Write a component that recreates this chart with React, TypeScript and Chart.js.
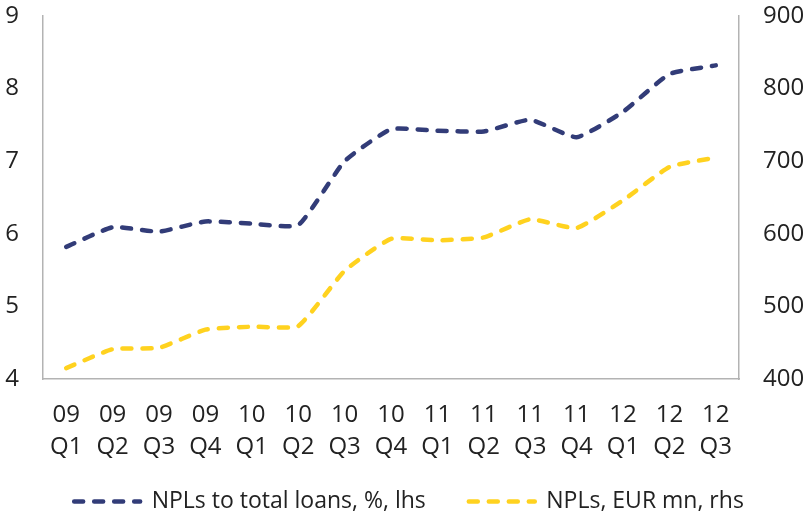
import React, { useEffect, useRef } from "react";
import { Chart, registerables } from "chart.js";

Chart.register(...registerables);

const categories: string[][] = [
  ["09", "Q1"], ["09", "Q2"], ["09", "Q3"], ["09", "Q4"],
  ["10", "Q1"], ["10", "Q2"], ["10", "Q3"], ["10", "Q4"],
  ["11", "Q1"], ["11", "Q2"], ["11", "Q3"], ["11", "Q4"],
  ["12", "Q1"], ["12", "Q2"], ["12", "Q3"],
];

const nplRatio: number[] = [5.82, 6.09, 6.03, 6.17, 6.14, 6.12, 7.0, 7.44, 7.42, 7.41, 7.57, 7.33, 7.68, 8.2, 8.32];
const nplEurMn: number[] = [415, 441, 443, 468, 472, 473, 549, 593, 591, 595, 620, 608, 646, 692, 705];

const leftTicks = { min: 4, max: 9, step: 1 };
const rightTicks = { min: 400, max: 900, step: 100 };

const seriesNames = ["NPLs to total loans, %, lhs", "NPLs, EUR mn, rhs"];

const FONT = "'Open Sans', sans-serif";
const TEXT = "#222222";
const AXIS = "#b3b3b3";
const BLUE = "#323c78";
const YELLOW = "#ffd21f";
const DASH = [9, 11];
const LINE_W = 4.5;

const legendShift = {
  id: "legendShift",
  afterLayout(chart: any) {
    const l = chart.legend;
    if (l) {
      l.top -= 16;
      l.left += 6;
      l.right += 6;
    }
  },
};

export default function App() {
  const ref = useRef<HTMLCanvasElement | null>(null);

  useEffect(() => {
    if (!ref.current) return;
    const chart = new Chart(ref.current, {
      type: "line",
      data: {
        labels: categories,
        datasets: [
          {
            label: seriesNames[0],
            data: nplRatio,
            yAxisID: "y",
            borderColor: BLUE,
            backgroundColor: BLUE,
            borderWidth: LINE_W,
            borderDash: DASH,
            borderCapStyle: "round",
            pointRadius: 0,
            tension: 0.15,
          },
          {
            label: seriesNames[1],
            data: nplEurMn,
            yAxisID: "y1",
            borderColor: YELLOW,
            backgroundColor: YELLOW,
            borderWidth: LINE_W,
            borderDash: DASH,
            borderCapStyle: "round",
            pointRadius: 0,
            tension: 0.15,
          },
        ],
      },
      options: {
        animation: false,
        responsive: false,
        maintainAspectRatio: false,
        layout: { padding: { top: 16, left: 0, right: 0, bottom: 0 } },
        plugins: {
          tooltip: { enabled: false },
          legend: {
            position: "bottom",
            maxHeight: 55,
            labels: {
              usePointStyle: true,
              pointStyle: "line",
              pointStyleWidth: 66,
              padding: 43,
              color: TEXT,
              font: { family: FONT, size: 23 },
              generateLabels: (c: any) => {
                const items = Chart.defaults.plugins.legend.labels.generateLabels(c);
                return items.map((it: any) => ({
                  ...it,
                  lineDash: DASH,
                  lineCap: "round",
                  lineWidth: LINE_W,
                  pointStyle: "line",
                }));
              },
            },
          },
        },
        scales: {
          x: {
            offset: true,
            grid: { display: false, drawTicks: false },
            border: { display: true, color: AXIS, width: 1.5 },
            ticks: {
              color: TEXT,
              font: { family: FONT, size: 24, lineHeight: 1.333 },
              padding: 20,
              maxRotation: 0,
              autoSkip: false,
            },
            afterFit: (s: any) => { s.height = 84; },
          },
          y: {
            position: "left",
            min: leftTicks.min,
            max: leftTicks.max,
            grid: { display: false, drawTicks: false },
            border: { display: true, color: AXIS, width: 1.5 },
            ticks: {
              stepSize: leftTicks.step,
              color: TEXT,
              font: { family: FONT, size: 24 },
              padding: 24,
            },
            afterFit: (s: any) => { s.width = 43; s.paddingTop = 16; s.paddingBottom = 16; },
          },
          y1: {
            position: "right",
            min: rightTicks.min,
            max: rightTicks.max,
            grid: { display: false, drawTicks: false },
            border: { display: true, color: AXIS, width: 1.5 },
            ticks: {
              stepSize: rightTicks.step,
              color: TEXT,
              font: { family: FONT, size: 24 },
              padding: 24,
            },
            afterFit: (s: any) => { s.width = 67; s.paddingTop = 16; s.paddingBottom = 16; },
          },
        },
      },
      plugins: [legendShift],
    } as any);
    return () => chart.destroy();
  }, []);

  return (
    <div style={{ position: "fixed", left: 0, top: 0, width: 806, height: 518, background: "#fff" }}>
      <canvas ref={ref} width={806} height={518} style={{ display: "block" }} />
    </div>
  );
}
